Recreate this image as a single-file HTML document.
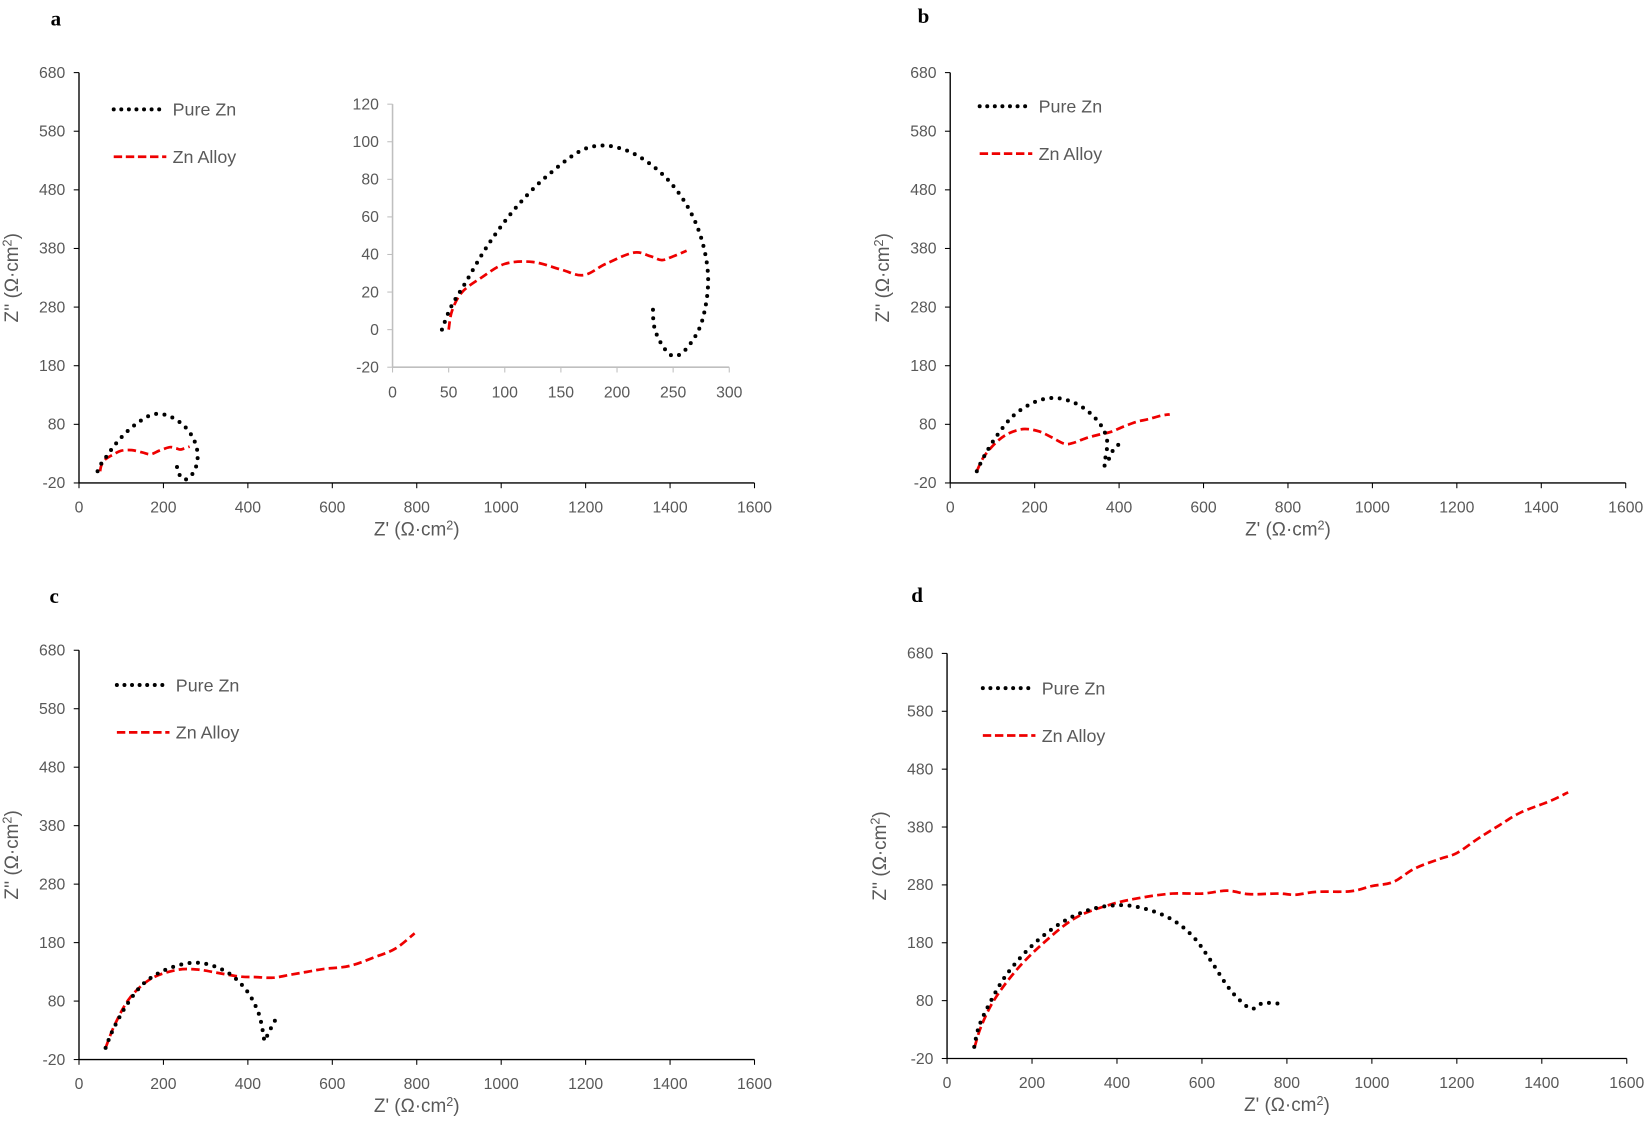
<!DOCTYPE html>
<html><head><meta charset="utf-8"><style>
html,body{margin:0;padding:0;background:#fff}
svg{display:block}
text{font-family:"Liberation Sans",sans-serif}
</style></head><body>
<svg id="s" width="1650" height="1129" viewBox="0 0 1568 1073" xmlns="http://www.w3.org/2000/svg">
<text x="48" y="24" font-weight="bold" font-size="20" style="font-family:'Liberation Serif',serif">a</text>
<text x="872" y="22" font-weight="bold" font-size="20" style="font-family:'Liberation Serif',serif">b</text>
<text x="47" y="573" font-weight="bold" font-size="20" style="font-family:'Liberation Serif',serif">c</text>
<text x="866" y="572" font-weight="bold" font-size="20" style="font-family:'Liberation Serif',serif">d</text>
</svg>
<script>
var S=document.getElementById('s'),NS='http://www.w3.org/2000/svg';
function el(t,a,txt){var e=document.createElementNS(NS,t);for(var k in a)e.setAttribute(k,a[k]);if(txt!=null)e.textContent=txt;S.appendChild(e);return e;}
function path(pts,mx,my){var p=pts.map(function(q){return [mx(q[0]),my(q[1])]});var d='M'+p[0][0]+','+p[0][1];
for(var i=0;i<p.length-1;i++){var p0=p[i-1]||p[i],p1=p[i],p2=p[i+1],p3=p[i+2]||p2;
d+=' C'+(p1[0]+(p2[0]-p0[0])/6)+','+(p1[1]+(p2[1]-p0[1])/6)+' '+(p2[0]-(p3[0]-p1[0])/6)+','+(p2[1]-(p3[1]-p1[1])/6)+' '+p2[0]+','+p2[1];}return d;}
function series(pts,mx,my,dot){
 if(dot) el('path',{d:path(pts,mx,my),fill:'none',stroke:'#000','stroke-width':3.8,'stroke-linecap':'round','stroke-dasharray':'0 8'});
 else el('path',{d:path(pts,mx,my),fill:'none',stroke:'#e00','stroke-width':2.6,'stroke-dasharray':'8 4'});
}
function panel(P,pure,alloy,inset){
 var x0=P.x0,x1=P.x1,y0=P.y0,y1=P.y1;
 var mx=function(v){return x0+(v)/1600*(x1-x0)},my=function(v){return y1-(v+20)/700*(y1-y0)};
 el('line',{x1:x0,y1:y0,x2:x0,y2:y1,stroke:'#000','stroke-width':1.3});
 el('line',{x1:x0,y1:y1,x2:x1,y2:y1,stroke:'#000','stroke-width':1.3});
 for(var v=-20;v<=680;v+=100){var y=my(v);el('line',{x1:x0-5,y1:y,x2:x0,y2:y,stroke:'#000'});el('text',{x:x0-13,y:y+5,'text-anchor':'end','font-size':15,fill:'#595959'},v);}
 for(var v=0;v<=1600;v+=200){var x=mx(v);el('line',{x1:x,y1:y1,x2:x,y2:y1+5,stroke:'#000'});el('text',{x:x,y:y1+28,'text-anchor':'middle','font-size':15,fill:'#595959'},v);}
 var t=el('text',{x:(x0+x1)/2,y:y1+50,'text-anchor':'middle','font-size':18,fill:'#595959'});
 t.innerHTML="Z' (Ω·cm<tspan dy='-6' font-size='12'>2</tspan><tspan dy='6'>)</tspan>";
 var cy=(y0+y1)/2,cx=x0-58;
 var t2=el('text',{x:cx,y:cy,'text-anchor':'middle','font-size':18,fill:'#595959',transform:'rotate(-90 '+cx+' '+cy+')'});
 t2.innerHTML="Z'' (Ω·cm<tspan dy='-6' font-size='12'>2</tspan><tspan dy='6'>)</tspan>";
 var lx=x0+P.lx,ly=y0+P.ly;
 el('line',{x1:lx,y1:ly,x2:lx+50,y2:ly,stroke:'#000','stroke-width':3.8,'stroke-linecap':'round','stroke-dasharray':'0 7.2'});
 el('text',{x:lx+56,y:ly+6,'font-size':17,fill:'#595959'},'Pure Zn');
 el('line',{x1:lx,y1:ly+45,x2:lx+50,y2:ly+45,stroke:'#e00','stroke-width':2.6,'stroke-dasharray':'8 3.5'});
 el('text',{x:lx+56,y:ly+51,'font-size':17,fill:'#595959'},'Zn Alloy');
 series(alloy,mx,my,false);series(pure,mx,my,true);
 if(inset){
  var ix0=373,ix1=693,iy0=99,iy1=349;
  var ax=function(v){return ix0+v/300*(ix1-ix0)},ay=function(v){return iy1-(v+20)/140*(iy1-iy0)};
  el('line',{x1:ix0,y1:iy0,x2:ix0,y2:iy1,stroke:'#bfbfbf','stroke-width':1.5});
  el('line',{x1:ix0,y1:iy1,x2:ix1,y2:iy1,stroke:'#bfbfbf','stroke-width':1.5});
  for(var v=-20;v<=120;v+=20){var y=ay(v);el('line',{x1:ix0-5,y1:y,x2:ix0,y2:y,stroke:'#bfbfbf'});el('text',{x:ix0-13,y:y+5,'text-anchor':'end','font-size':15,fill:'#595959'},v);}
  for(var v=0;v<=300;v+=50){var x=ax(v);el('line',{x1:x,y1:iy1,x2:x,y2:iy1+5,stroke:'#bfbfbf'});el('text',{x:x,y:iy1+29,'text-anchor':'middle','font-size':15,fill:'#595959'},v);}
  series(alloy,ax,ay,false);series(pure,ax,ay,true);
 }
}
var pa=[[44,0],[52,12],[65,25],[85,45],[110,65],[140,83],[175,97],[210,95],[245,80],[270,57],[281,30],[276,5],[262,-10],[250,-14],[240,-8],[233,2],[232,15]];
var aa=[[50,0],[53,10],[62,20],[80,28],[100,35],[125,36],[150,32],[170,29],[190,35],[215,41],[230,39],[240,37],[250,39],[262,42]];
panel({x0:75,x1:717,y0:69,y1:459,lx:33,ly:35},pa,aa,true);
var pb=[[63,0],[80,25],[110,60],[150,95],[200,118],[245,125],[290,118],[330,100],[360,75],[372,50],[368,25],[365,10],[372,15],[385,35],[398,45],[410,52]];
var ab=[[63,0],[80,25],[110,50],[140,65],[175,72],[210,68],[240,58],[270,47],[290,48],[320,56],[350,62],[380,67],[410,76],[440,84],[470,89],[500,95],[520,97]];
panel({x0:903,x1:1545,y0:69,y1:459,lx:28,ly:32},pb,ab,false);
var pc=[[63,0],[80,30],[110,70],[150,108],[200,132],[260,145],[310,142],[360,125],[400,95],[425,60],[435,30],[440,12],[448,25],[458,38],[470,55]];
var ac=[[63,0],[85,40],[120,85],[170,118],[230,133],[280,134],[330,128],[380,122],[420,121],[460,120],[500,125],[540,130],[580,135],[640,140],[700,155],[750,170],[795,196]];
panel({x0:75,x1:717,y0:618,y1:1007,lx:36,ly:33},pc,ac,false);
var pd=[[64,0],[75,35],[100,75],[140,125],[200,175],[270,215],[340,238],[410,245],[470,238],[530,220],[580,190],[620,150],[660,105],[690,80],[715,66],[730,70],[745,76],[780,75]];
var ad=[[65,0],[80,35],[110,80],[160,130],[220,175],[300,222],[380,245],[450,257],[530,265],[600,265],[660,270],[710,264],[780,265],[820,263],[870,268],[950,269],[1000,278],[1050,285],[1100,308],[1160,325],[1200,335],[1250,360],[1300,383],[1350,405],[1420,425],[1462,440]];
panel({x0:900,x1:1546,y0:621,y1:1006,lx:34,ly:33},pd,ad,false);
</script>
</body></html>
